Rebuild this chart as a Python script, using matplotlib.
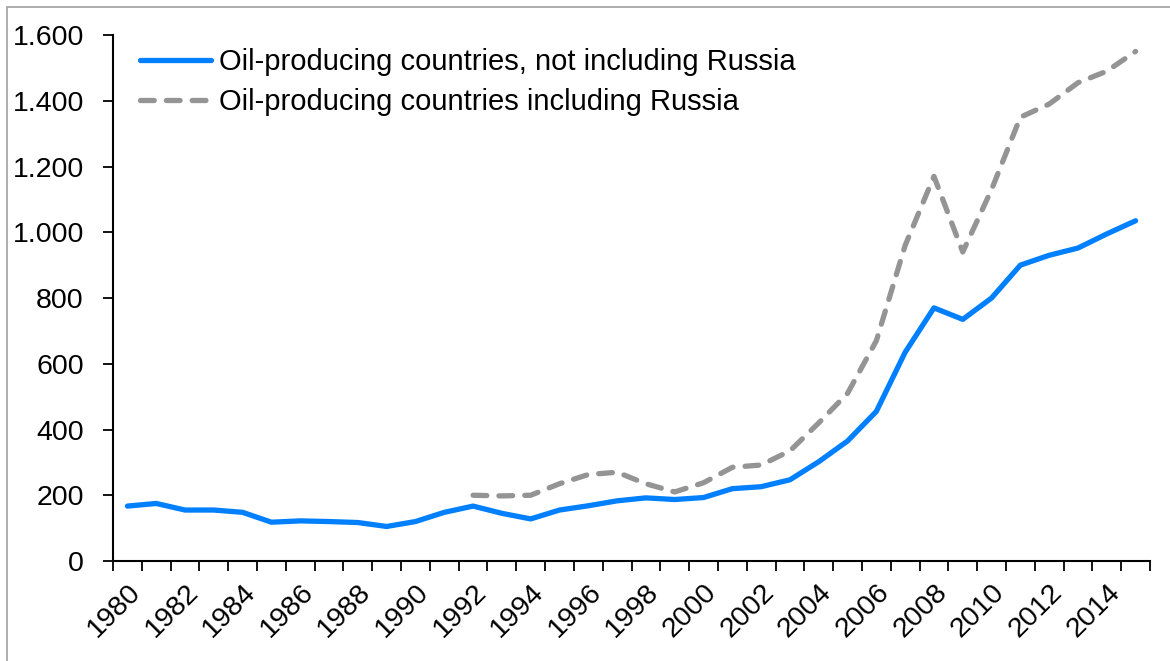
import numpy as np
import matplotlib.pyplot as plt
from matplotlib.ticker import FuncFormatter, MultipleLocator
from matplotlib.patches import Rectangle

plt.rcParams['font.family'] = ['Liberation Sans', 'DejaVu Sans']

# Investments, billions of USD
years = list(range(1980, 2016))
without_russia = [167, 175, 155, 155, 148, 118, 122, 120, 117, 105,
                  120, 148, 167, 145, 128, 155, 168, 183, 192, 187,
                  193, 220, 226, 247, 302, 365, 455, 635, 770, 735,
                  800, 900, 930, 952, 995, 1035]
years_russia = list(range(1992, 2016))
with_russia = [200, 198, 200, 235, 263, 270, 235, 210, 238, 285,
               292, 335, 420, 510, 670, 960, 1170, 940, 1130, 1350,
               1390, 1455, 1490, 1550]

label_without = 'Oil-producing countries, not including Russia'
label_with = 'Oil-producing countries including Russia'

fig = plt.figure(figsize=(11.7, 6.61), dpi=100)
ax = fig.add_axes([0.0966, 0.1513, 0.8863, 0.7957])

# outer frame of the chart area
fig.patches.append(Rectangle((7 / 1170, -0.2), 1.5, 1.2 - 7 / 661,
                             transform=fig.transFigure, fill=False,
                             edgecolor='#a0a0a0', linewidth=1.2))

ax.plot(years, without_russia, color='#0080ff', lw=3.8,
        solid_joinstyle='round', solid_capstyle='round', label=label_without)
ax.plot(years_russia, with_russia, color='#949494', lw=3.8,
        dashes=(2.6, 2.3), dash_capstyle='round', label=label_with)

ax.set_xlim(1979.5, 2015.5)
ax.set_ylim(0, 1600)
ax.yaxis.set_major_locator(MultipleLocator(200))
ax.yaxis.set_major_formatter(FuncFormatter(lambda v, p: f'{int(v):,}'.replace(',', '.')))

ax.set_xticks(years[::2])
ax.set_xticklabels([str(y) for y in years[::2]], rotation=45, ha='right',
                   rotation_mode='anchor')
ax.set_xticks(np.arange(1979.5, 2016, 1), minor=True)
ax.tick_params(axis='x', which='major', length=0, pad=13, labelsize=20.5)
ax.tick_params(axis='x', which='minor', length=7, width=1.3, direction='out')
ax.tick_params(axis='y', length=7, width=1.3, labelsize=20.5, pad=14)

for s in ['top', 'right']:
    ax.spines[s].set_visible(False)
for s in ['left', 'bottom']:
    ax.spines[s].set_linewidth(1.5)

ax.legend(loc='upper left', bbox_to_anchor=(0.009, 1.008), frameon=False,
          fontsize=21, handlelength=2.45, handletextpad=0.25, labelspacing=0.4,
          borderaxespad=0.2)

fig.savefig('out.png', dpi=100)
